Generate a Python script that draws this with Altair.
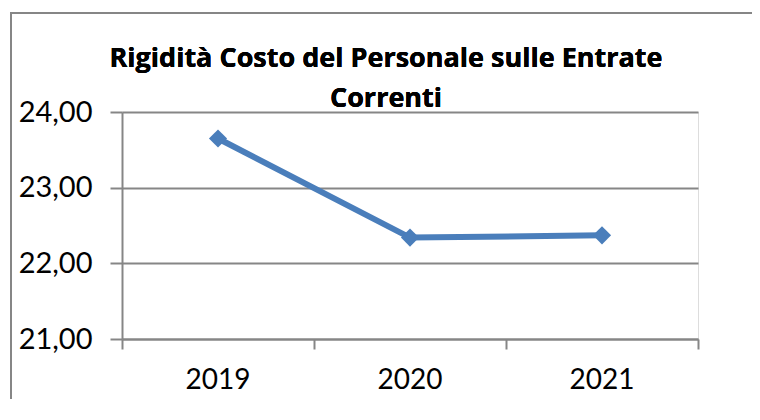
import altair as alt
import pandas as pd

years = ["2019", "2020", "2021"]
values = [23.65, 22.34, 22.37]
y_ticks = [21, 22, 23, 24]
title_line1 = "Rigidità Costo del Personale sulle Entrate"
title_line2 = "Correnti"

df = pd.DataFrame({"anno": years, "valore": values})

GRAY = "#868686"
BLUE = "#4A7EBB"
FONT = "Lato"
TITLE_FONT = "Open Sans"

x_enc = alt.X(
    "anno:N",
    sort=years,
    scale=alt.Scale(type="band", paddingInner=0, paddingOuter=0),
    axis=alt.Axis(
        title=None,
        bandPosition=1,
        tickExtra=True,
        tickSize=10,
        tickWidth=2,
        tickColor=GRAY,
        domainColor=GRAY,
        domainWidth=2,
        labelFont=FONT,
        labelFontSize=28,
        labelColor="#000000",
        labelPadding=17,
        labelAngle=0,
        grid=False,
    ),
)
y_enc = alt.Y(
    "valore:Q",
    scale=alt.Scale(domain=[21, 24], nice=False, zero=False),
    axis=alt.Axis(
        title=None,
        values=y_ticks,
        labelExpr="replace(format(datum.value, '.2f'), '.', ',')",
        tickSize=12,
        tickWidth=2,
        tickColor=GRAY,
        domainColor=GRAY,
        domainWidth=2,
        gridColor=GRAY,
        gridWidth=2,
        labelFont=FONT,
        labelFontSize=29,
        labelColor="#000000",
        labelPadding=18,
    ),
)

# chart frame: only the left and top edges fall inside the picture
frame_left = alt.Chart(df).mark_rule(color=GRAY, strokeWidth=2, clip=False).encode(
    x=alt.value(-111), y=alt.value(-100), y2=alt.value(287)
)
frame_top = alt.Chart(df).mark_rule(color=GRAY, strokeWidth=2, clip=False).encode(
    x=alt.value(-112), x2=alt.value(630), y=alt.value(-99)
)

title1 = alt.Chart(df).mark_text(
    text=title_line1, font=TITLE_FONT, fontSize=27, fontWeight="bold", color="#000000",
    align="center", baseline="alphabetic"
).encode(x=alt.value(264), y=alt.value(-45))
title2 = alt.Chart(df).mark_text(
    text=title_line2, font=TITLE_FONT, fontSize=27, fontWeight="bold", color="#000000",
    align="center", baseline="alphabetic"
).encode(x=alt.value(264), y=alt.value(-5))

line = alt.Chart(df).mark_line(color=BLUE, strokeWidth=6).encode(x=x_enc, y=y_enc)
points = alt.Chart(df).mark_point(
    shape="diamond", filled=True, size=330, color=BLUE, opacity=1
).encode(x=x_enc, y=y_enc)

chart = alt.layer(line, points, frame_left, frame_top, title1, title2).properties(
    width=576,
    height=227,
    autosize=alt.AutoSizeParams(type="none"),
    padding={"left": 114, "top": 104, "right": 54, "bottom": 60},
).configure_view(stroke=None).configure(background="white")

chart.save("out.html", embed_options={"renderer": "svg", "actions": False})
